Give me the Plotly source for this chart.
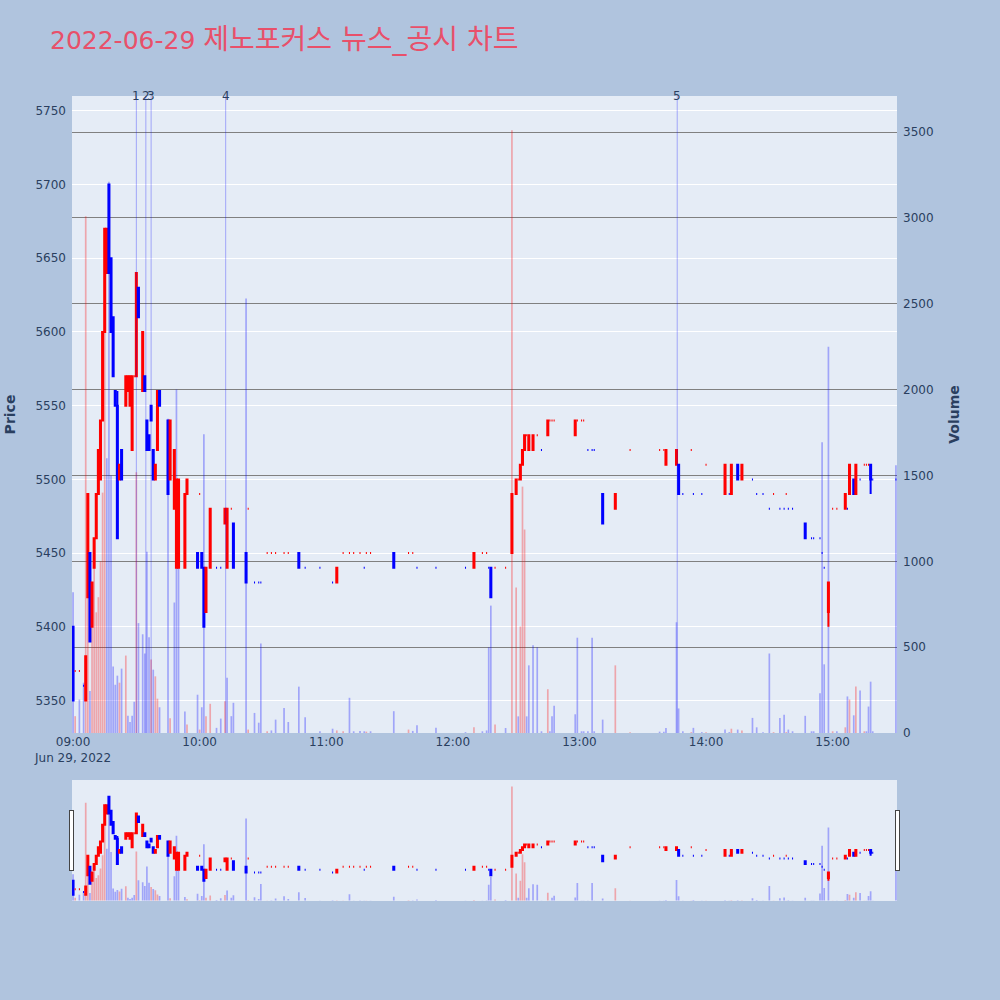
import pandas as pd
import plotly.graph_objects as go

TITLE_DATE = "2022-06-29"
TITLE_TEXT = "제노포커스 뉴스_공시 차트"

times = ["09:00", "09:01", "09:03", "09:05", "09:06", "09:07", "09:08", "09:09", "09:10", "09:11",
         "09:12", "09:13", "09:14", "09:15", "09:16", "09:17", "09:18", "09:19", "09:20", "09:21",
         "09:22", "09:23", "09:25", "09:26", "09:27", "09:28", "09:29", "09:30", "09:31", "09:33",
         "09:34", "09:35", "09:36", "09:37", "09:38", "09:39", "09:40", "09:41", "09:45", "09:46",
         "09:48", "09:49", "09:50", "09:53", "09:54", "09:59", "10:00", "10:01", "10:02", "10:03",
         "10:05", "10:08", "10:10", "10:12", "10:13", "10:15", "10:16", "10:22", "10:23", "10:26",
         "10:28", "10:29", "10:32", "10:34", "10:36", "10:40", "10:42", "10:47", "10:50", "10:57",
         "11:03", "11:05", "11:08", "11:11", "11:13", "11:16", "11:18", "11:19", "11:21", "11:32",
         "11:39", "11:41", "11:43", "11:52", "12:06", "12:10", "12:14", "12:16", "12:17", "12:18",
         "12:20", "12:25", "12:28", "12:30", "12:31", "12:32", "12:33", "12:34", "12:35", "12:36",
         "12:38", "12:40", "12:42", "12:45", "12:46", "12:47", "12:48", "12:58", "12:59", "13:01",
         "13:02", "13:04", "13:06", "13:07", "13:11", "13:17", "13:24", "13:38", "13:40", "13:41",
         "13:46", "13:47", "13:49", "13:53", "13:54", "13:58", "14:00", "14:09", "14:11", "14:12",
         "14:15", "14:17", "14:22", "14:24", "14:27", "14:30", "14:32", "14:35", "14:37", "14:38",
         "14:39", "14:41", "14:47", "14:50", "14:51", "14:54", "14:55", "14:56", "14:58", "15:00",
         "15:02", "15:06", "15:07", "15:08", "15:10", "15:11", "15:13", "15:15", "15:16", "15:17",
         "15:18", "15:19", "15:30"]

opens = [5400, 5370, 5370, 5360, 5350, 5420, 5450, 5400, 5440, 5460,
         5490, 5500, 5540, 5600, 5640, 5700, 5650, 5610, 5560, 5550,
         5500, 5520, 5550, 5560, 5550, 5520, 5570, 5570, 5630, 5560,
         5570, 5540, 5530, 5550, 5520, 5500, 5520, 5560, 5540, 5500,
         5480, 5440, 5440, 5440, 5490, 5450, 5490, 5450, 5440, 5410,
         5440, 5440, 5440, 5470, 5440, 5480, 5470, 5450, 5480, 5430,
         5430, 5430, 5450, 5450, 5450, 5450, 5450, 5450, 5440, 5440,
         5430, 5430, 5450, 5450, 5450, 5450, 5440, 5450, 5450, 5450,
         5450, 5450, 5440, 5440, 5440, 5440, 5450, 5450, 5440, 5440,
         5440, 5440, 5450, 5490, 5500, 5500, 5510, 5520, 5530, 5520,
         5520, 5530, 5520, 5530, 5540, 5540, 5540, 5530, 5540, 5540,
         5540, 5520, 5520, 5520, 5490, 5480, 5520, 5520, 5520, 5510,
         5510, 5510, 5490, 5520, 5490, 5490, 5510, 5490, 5490, 5490,
         5510, 5500, 5500, 5490, 5490, 5480, 5490, 5480, 5480, 5490,
         5480, 5480, 5470, 5460, 5460, 5460, 5450, 5440, 5410, 5480,
         5480, 5480, 5480, 5490, 5500, 5490, 5500, 5510, 5510, 5510,
         5510, 5500, 5500]

highs = [5400, 5370, 5370, 5360, 5380, 5490, 5450, 5430, 5460, 5490,
         5520, 5540, 5600, 5670, 5670, 5700, 5650, 5610, 5560, 5560,
         5510, 5520, 5570, 5570, 5570, 5570, 5570, 5640, 5630, 5600,
         5570, 5540, 5530, 5550, 5520, 5510, 5560, 5560, 5540, 5540,
         5520, 5500, 5500, 5490, 5500, 5450, 5490, 5450, 5440, 5440,
         5480, 5440, 5440, 5480, 5480, 5480, 5470, 5450, 5480, 5430,
         5430, 5430, 5450, 5450, 5450, 5450, 5450, 5450, 5440, 5440,
         5430, 5440, 5450, 5450, 5450, 5450, 5440, 5450, 5450, 5450,
         5450, 5450, 5440, 5440, 5440, 5450, 5450, 5450, 5440, 5440,
         5440, 5440, 5490, 5500, 5500, 5510, 5520, 5530, 5530, 5530,
         5530, 5530, 5520, 5540, 5540, 5540, 5540, 5540, 5540, 5540,
         5540, 5520, 5520, 5520, 5490, 5490, 5520, 5520, 5520, 5520,
         5520, 5510, 5490, 5520, 5490, 5490, 5510, 5510, 5490, 5510,
         5510, 5510, 5500, 5490, 5490, 5480, 5490, 5480, 5480, 5490,
         5480, 5480, 5470, 5460, 5460, 5460, 5450, 5440, 5430, 5480,
         5480, 5490, 5480, 5510, 5500, 5510, 5500, 5510, 5510, 5510,
         5510, 5500, 5500]

lows = [5350, 5370, 5370, 5360, 5350, 5420, 5390, 5400, 5440, 5460,
        5490, 5500, 5540, 5600, 5640, 5640, 5600, 5570, 5550, 5460,
        5500, 5500, 5550, 5560, 5550, 5520, 5570, 5570, 5610, 5560,
        5560, 5520, 5520, 5540, 5500, 5500, 5520, 5550, 5490, 5500,
        5480, 5440, 5440, 5440, 5490, 5440, 5490, 5440, 5400, 5410,
        5440, 5440, 5440, 5470, 5440, 5480, 5440, 5430, 5480, 5430,
        5430, 5430, 5450, 5450, 5450, 5450, 5450, 5440, 5440, 5440,
        5430, 5430, 5450, 5450, 5450, 5450, 5440, 5450, 5450, 5440,
        5450, 5450, 5440, 5440, 5440, 5440, 5450, 5450, 5440, 5420,
        5440, 5440, 5450, 5490, 5500, 5500, 5510, 5520, 5530, 5520,
        5520, 5530, 5520, 5530, 5540, 5540, 5540, 5530, 5540, 5540,
        5540, 5520, 5520, 5520, 5470, 5480, 5520, 5520, 5520, 5510,
        5510, 5490, 5490, 5520, 5490, 5490, 5510, 5490, 5490, 5490,
        5500, 5500, 5500, 5490, 5490, 5480, 5490, 5480, 5480, 5490,
        5480, 5480, 5460, 5460, 5460, 5460, 5450, 5440, 5400, 5480,
        5480, 5480, 5480, 5490, 5490, 5490, 5500, 5510, 5510, 5510,
        5490, 5500, 5500]

closes = [5350, 5370, 5370, 5360, 5380, 5490, 5390, 5430, 5460, 5490,
          5520, 5540, 5600, 5670, 5670, 5640, 5600, 5570, 5550, 5460,
          5510, 5500, 5570, 5570, 5570, 5570, 5570, 5640, 5610, 5600,
          5560, 5520, 5520, 5540, 5500, 5510, 5560, 5550, 5490, 5540,
          5520, 5500, 5500, 5490, 5500, 5440, 5490, 5440, 5400, 5440,
          5480, 5440, 5440, 5480, 5480, 5480, 5440, 5430, 5480, 5430,
          5430, 5430, 5450, 5450, 5450, 5450, 5450, 5440, 5440, 5440,
          5430, 5440, 5450, 5450, 5450, 5450, 5440, 5450, 5450, 5440,
          5450, 5450, 5440, 5440, 5440, 5450, 5450, 5450, 5440, 5420,
          5440, 5440, 5490, 5500, 5500, 5510, 5520, 5530, 5530, 5530,
          5530, 5530, 5520, 5540, 5540, 5540, 5540, 5540, 5540, 5540,
          5540, 5520, 5520, 5520, 5470, 5490, 5520, 5520, 5520, 5520,
          5520, 5490, 5490, 5520, 5490, 5490, 5510, 5510, 5490, 5510,
          5500, 5510, 5500, 5490, 5490, 5480, 5490, 5480, 5480, 5490,
          5480, 5480, 5460, 5460, 5460, 5460, 5450, 5440, 5430, 5480,
          5480, 5490, 5480, 5510, 5490, 5510, 5500, 5510, 5510, 5510,
          5500, 5500, 5500]

volumes = [820, 98, 195, 293, 3010, 1210, 244, 693, 967, 703,
           791, 1000, 1400, 2400, 1600, 3210, 1500, 387, 281, 334,
           293, 375, 451, 100, 64, 100, 182, 1518, 640, 575,
           463, 1055, 557, 428, 369, 330, 200, 150, 1830, 86,
           760, 2000, 1470, 125, 50, 223, 20, 150, 1740, 98,
           170, 30, 84, 185, 322, 98, 176, 2530, 20, 117,
           60, 521, 10, 15, 78, 146, 64, 270, 92, 10,
           25, 15, 10, 205, 10, 12, 10, 8, 10, 127,
           20, 12, 45, 30, 5, 33, 10, 15, 499, 742,
           49, 29, 3510, 847, 97, 620, 1435, 1185, 97, 394,
           511, 499, 10, 255, 10, 97, 158, 109, 555, 10,
           10, 10, 555, 10, 78, 394, 5, 8, 8, 29,
           645, 143, 10, 5, 30, 5, 5, 20, 5, 25,
           20, 15, 88, 33, 5, 463, 5, 88, 107, 5,
           20, 10, 100, 10, 10, 232, 1693, 400, 2250, 10,
           10, 33, 213, 195, 103, 271, 248, 10, 10, 154,
           299, 10, 1560]

news_times = ["09:30:00", "09:34:30", "09:37:00", "10:12:20", "13:46:20"]
news_labels = ["1", "2", "3", "4", "5"]

DAY = "2022-06-29 "
x = pd.to_datetime([DAY + t for t in times])

# volume colour: up if close rises versus the previous close
vol_colors = []
prev = None
for o, c in zip(opens, closes):
    up = (c > o) if prev is None else (c > prev)
    vol_colors.append("rgba(255,0,0,0.3)" if up else "rgba(0,0,255,0.3)")
    prev = c

fig = go.Figure()
# volume on the base y axis (right side), candles on the overlaying axis so they sit on top
fig.add_trace(go.Bar(x=x, y=volumes, marker=dict(color=vol_colors, line=dict(width=0)),
                     name="Volume", yaxis="y"))
fig.add_trace(go.Candlestick(
    x=x, open=opens, high=highs, low=lows, close=closes, name="Price", yaxis="y2",
    increasing=dict(line=dict(color="#FF0000"), fillcolor="#FF0000"),
    decreasing=dict(line=dict(color="#0000FF"), fillcolor="#0000FF"),
))

for t, lab in zip(news_times, news_labels):
    xt = pd.Timestamp(DAY + t)
    fig.add_shape(type="line", xref="x", yref="paper", x0=xt, x1=xt, y0=0, y1=1,
                  line=dict(color="rgba(0,0,255,0.3)", width=1))
    fig.add_annotation(x=xt, y=1, xref="x", yref="paper", text=lab, showarrow=False,
                       yanchor="middle", font=dict(size=12, color="#2a3f5f"))

title_html = TITLE_DATE + ' <span style="font-size:28px">' + TITLE_TEXT + "</span>"

fig.update_layout(
    width=1000, height=1000,
    font=dict(family="DejaVu Sans"),
    title=dict(text=title_html, x=0.05, xanchor="left", y=0.96, yanchor="middle",
               font=dict(family="DejaVu Sans, Noto Sans CJK KR", size=25, color="#E8506A")),
    paper_bgcolor="#B0C4DE",
    margin=dict(l=72, r=103, t=96, b=100),
    showlegend=False,
    xaxis=dict(domain=[0, 1], rangeslider=dict(visible=True)),
    yaxis=dict(title=dict(text="<b>Volume</b>", standoff=16), side="right", range=[0, 3710],
               showgrid=True, gridcolor="gray", automargin=False, zeroline=False,
               ticklabelstandoff=5),
    yaxis2=dict(title=dict(text="<b>Price</b>", standoff=16), side="left", overlaying="y",
                range=[5328, 5760], showgrid=True, gridcolor="white", automargin=False,
                ticklabelstandoff=5),
)

fig.write_html("out.html", config={"displayModeBar": False},
               post_script="document.body.style.margin='0px';document.body.style.background='#B0C4DE';")
